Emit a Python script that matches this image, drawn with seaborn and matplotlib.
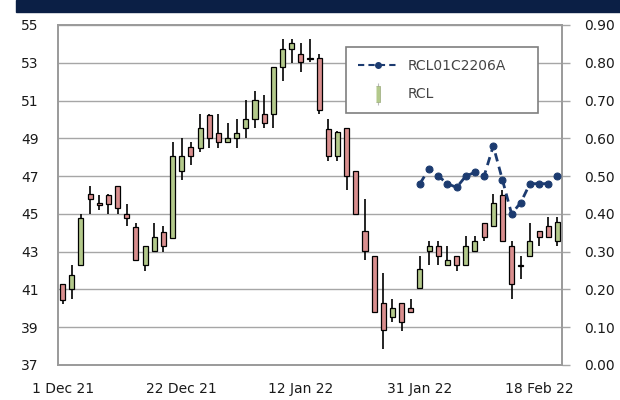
import numpy as np
import pandas as pd
import matplotlib
matplotlib.use("Agg")
import matplotlib.pyplot as plt
import seaborn as sns
from matplotlib.lines import Line2D
from matplotlib.patches import Rectangle
from matplotlib.legend_handler import HandlerTuple

# --- data ---
opens = [41.29, 41.03, 42.27, 46.03, 45.55, 46.00, 46.49, 45.02, 44.31, 42.30,
         43.01, 44.04, 43.74, 47.27, 48.56, 48.51, 50.25, 49.29, 48.79, 49.04,
         49.54, 50.02, 50.28, 50.28, 52.77, 53.74, 53.48, 53.25, 53.26, 49.50,
         48.07, 49.54, 47.27, 44.08, 42.77, 40.27, 39.52, 40.27, 40.00, 41.06,
         43.05, 43.31, 42.27, 42.77, 42.27, 43.05, 44.54, 44.34, 46.00, 43.28,
         42.30, 42.77, 44.08, 44.34, 43.55]
highs = [41.30, 42.30, 45.02, 46.49, 46.00, 46.05, 46.50, 45.50, 44.54, 43.28,
         44.54, 44.34, 48.81, 49.04, 48.80, 50.28, 50.28, 50.28, 49.79, 50.02,
         51.05, 51.52, 51.29, 52.77, 54.27, 54.27, 54.06, 54.27, 53.48, 50.02,
         49.40, 49.54, 47.27, 45.78, 42.77, 41.86, 40.50, 40.27, 40.50, 42.77,
         43.55, 43.55, 43.28, 42.77, 43.81, 43.81, 44.54, 46.03, 46.26, 43.55,
         42.77, 44.54, 44.08, 44.82, 44.82]
lows = [40.23, 40.50, 42.27, 45.02, 45.23, 45.02, 45.00, 44.34, 42.55, 42.00,
        43.00, 43.00, 43.74, 46.77, 47.57, 48.30, 48.51, 48.51, 48.79, 48.51,
        49.04, 49.54, 49.54, 49.54, 52.06, 53.00, 52.50, 53.03, 50.28, 47.80,
        47.80, 46.26, 45.02, 42.55, 39.79, 37.84, 39.29, 38.80, 39.79, 41.06,
        42.30, 42.30, 42.27, 42.00, 42.27, 43.05, 43.55, 44.34, 43.55, 40.50,
        41.56, 42.77, 43.28, 43.78, 43.28]
closes = [40.46, 41.79, 44.79, 45.80, 45.48, 45.55, 45.32, 44.79, 42.55, 43.28,
          43.78, 43.28, 48.07, 48.07, 48.07, 49.54, 49.04, 48.79, 49.04, 49.29,
          50.02, 51.01, 49.79, 52.77, 53.74, 54.06, 53.03, 53.20, 50.50, 48.07,
          49.31, 47.00, 45.02, 43.05, 39.79, 38.85, 40.00, 39.29, 39.79, 42.07,
          43.31, 42.77, 42.55, 42.27, 43.28, 43.55, 43.78, 45.55, 43.55, 41.29,
          42.25, 43.55, 43.78, 43.78, 44.57]

# option series (right axis), starts at candle 39
opt_start = 39
opt_values = [0.48, 0.52, 0.50, 0.48, 0.47, 0.50, 0.51, 0.50, 0.58, 0.49,
              0.40, 0.43, 0.48, 0.48, 0.48, 0.50]

tick_labels = ["1 Dec 21", "22 Dec 21", "12 Jan 22", "31 Jan 22", "18 Feb 22"]
tick_step = 13

# --- frames ---
df = pd.DataFrame({"open": opens, "high": highs, "low": lows, "close": closes})
df["x"] = np.arange(len(df))
df["up"] = df["close"] >= df["open"]
opt = pd.DataFrame({"x": np.arange(opt_start, opt_start + len(opt_values)),
                    "value": opt_values})

green = "#b3c98b"
red = "#d98e8e"
navy = "#1c3b70"
grid_c = "#a6a6a6"
txt_c = "#1a1a1a"

sns.set_theme(style="white")
plt.rcParams["font.family"] = ["DejaVu Sans"]

fig, ax = plt.subplots(figsize=(6.2, 4.0), dpi=100)
fig.subplots_adjust(left=58 / 620, right=562 / 620, top=1 - 25 / 400, bottom=1 - 365 / 400)

# top navy band
fig.patches.append(Rectangle((16 / 620, 1 - 12 / 400), 1, 12 / 400,
                             transform=fig.transFigure, color="#0b1f45", zorder=0))

# candles
ax.vlines(df["x"], df["low"], df["high"], color="black", lw=1.2, zorder=2)
body = (df["close"] - df["open"]).abs().clip(lower=0.06)
bottom = df[["open", "close"]].min(axis=1)
ax.bar(df["x"], body, bottom=bottom, width=0.55,
       color=np.where(df["up"], green, red), edgecolor="black", linewidth=0.9, zorder=3)

ax.set_xlim(-0.5, len(df) - 0.5)
ax.set_ylim(37, 55)
ax.set_yticks(np.arange(37, 56, 2))
ax.grid(axis="y", color=grid_c, lw=1.0)
ax.set_axisbelow(True)
ax.set_xticks(np.arange(0, len(df), tick_step)[:len(tick_labels)])
ax.set_xticklabels(tick_labels)
ax.tick_params(axis="x", length=0, pad=12, labelsize=10, colors=txt_c)
ax.tick_params(axis="y", length=0, pad=14, labelsize=10, colors=txt_c)
for s in ax.spines.values():
    s.set_color("#9a9a9a")
    s.set_linewidth(1.2)

# option line on the right axis
ax2 = ax.twinx()
sns.lineplot(data=opt, x="x", y="value", ax=ax2, color=navy, lw=2.0,
             linestyle=(0, (3, 2)), marker="o", markersize=5,
             markeredgecolor=navy, zorder=4)
ax2.set_ylim(0, 0.9)
ax2.set_yticks(np.arange(0, 0.91, 0.1))
ax2.set_yticklabels([f"{v:.2f}" for v in np.arange(0, 0.91, 0.1)])
ax2.set_ylabel("")
ax2.set_xlabel("")
ax.set_xlabel("")
ax2.tick_params(axis="y", length=6, width=1.0, color=grid_c, pad=10,
                labelsize=10, colors=txt_c)
ax2.tick_params(axis="y", color=grid_c)
for s in ax2.spines.values():
    s.set_color("#9a9a9a")
    s.set_linewidth(1.2)

# legend
line_h = Line2D([], [], color=navy, lw=1.5, linestyle=(0, (3, 2)),
                marker="o", markersize=4, markevery=[1])
wick_h = Line2D([], [], color="#bbbbbb", marker="|", markersize=16, lw=0,
                markeredgewidth=0.8)
body_h = Line2D([], [], color=green, lw=0, marker=[(-0.3, -1), (0.3, -1), (0.3, 1), (-0.3, 1)],
                markersize=11, markeredgecolor="#9aa97c", markeredgewidth=0.5)
leg = ax2.legend([line_h, (wick_h, body_h)], ["RCL01C2206A", "RCL"],
                 handler_map={tuple: HandlerTuple(ndivide=1)},
                 loc="upper left", bbox_to_anchor=(0.571, 0.935, 0.381, 0.0),
                 mode="expand",
                 frameon=True, fancybox=False, framealpha=1, edgecolor="#7f7f7f",
                 fontsize=10, handlelength=2.9, handletextpad=0.7,
                 labelspacing=1.05, borderpad=0.85, borderaxespad=0)
leg.get_frame().set_linewidth(1.2)
for t in leg.get_texts():
    t.set_color("#444444")

fig.savefig("out.png", dpi=100)
